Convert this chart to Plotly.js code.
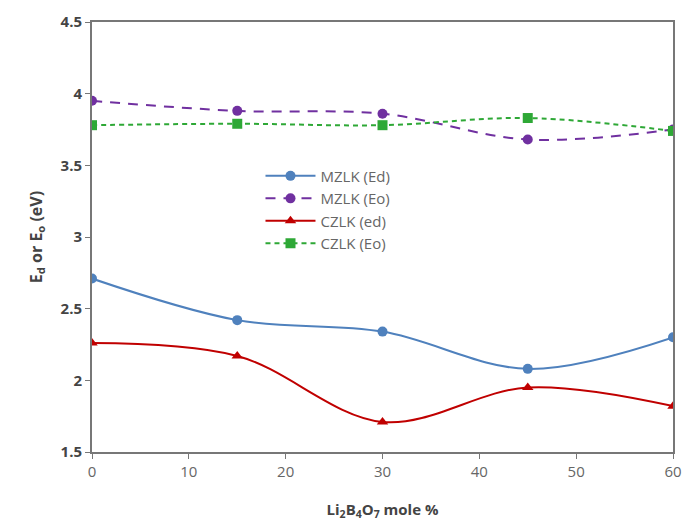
<!DOCTYPE html>
<html><head><meta charset="utf-8">
<script src="https://cdn.plot.ly/plotly-3.0.1.min.js"></script>
<style>body{margin:0;background:#fff}#c{width:683px;height:524px}</style>
</head><body><div id="c"></div>
<script>
var xVals = [0, 15, 30, 45, 60];
var mzlkEd = [2.71, 2.42, 2.34, 2.08, 2.30];
var mzlkEo = [3.95, 3.88, 3.86, 3.68, 3.75];
var czlkEd = [2.26, 2.17, 1.71, 1.95, 1.82];
var czlkEo = [3.78, 3.79, 3.78, 3.83, 3.74];
var names = ['MZLK (Ed)', 'MZLK (Eo)', 'CZLK (ed)', 'CZLK (Eo)'];
var xTicks = [0, 10, 20, 30, 40, 50, 60];
var yTicks = [1.5, 2, 2.5, 3, 3.5, 4, 4.5];

function tr(y, name, color, dash, symbol, size) {
  return {x: xVals, y: y, name: name, type: 'scatter', mode: 'lines+markers',
    line: {color: color, width: 2, dash: dash, shape: 'spline', smoothing: 1},
    marker: {color: color, symbol: symbol, size: size}};
}
var data = [
  tr(mzlkEd, names[0], '#4F81BD', 'solid', 'circle', 10),
  tr(mzlkEo, names[1], '#7030A0', '10px,8px', 'circle', 10),
  tr(czlkEd, names[2], '#C00000', 'solid', 'triangle-up', 10),
  tr(czlkEo, names[3], '#2EA836', '5px,4px', 'square', 10)
];
var layout = {
  width: 683, height: 524,
  margin: {l: 92, r: 10, t: 22, b: 72},
  paper_bgcolor: '#fff', plot_bgcolor: '#fff',
  font: {family: 'Open Sans, Liberation Sans, sans-serif', size: 15, color: '#555'},
  showlegend: true,
  legend: {x: 0.29, y: 0.68, xanchor: 'left', yanchor: 'top', bgcolor: 'rgba(0,0,0,0)',
    font: {size: 15, color: '#666'}, tracegroupgap: 0, itemwidth: 50},
  xaxis: {range: [0, 60], tickvals: xTicks, ticks: 'outside', ticklen: 5, tickcolor: '#777',
    showline: true, linecolor: '#777', linewidth: 2, mirror: true, showgrid: false, zeroline: false,
    tickfont: {size: 15, color: '#666'},
    title: {text: '<b>Li<sub>2</sub>B<sub>4</sub>O<sub>7</sub> mole %</b>', font: {size: 15, color: '#444'}, standoff: 24}},
  yaxis: {range: [1.5, 4.5], tickvals: yTicks, ticktext: yTicks.map(function(v){return '<b>'+v+'</b>';}),
    ticks: 'outside', ticklen: 5, tickcolor: '#777',
    showline: true, linecolor: '#777', linewidth: 2, mirror: true, showgrid: false, zeroline: false,
    tickfont: {size: 15, color: '#444'},
    title: {text: '<b>E<sub>d</sub> or E<sub>o</sub> (eV)</b>', font: {size: 16, color: '#444'}, standoff: 14}}
};
Plotly.newPlot('c', data, layout, {displayModeBar: false});
</script></body></html>
